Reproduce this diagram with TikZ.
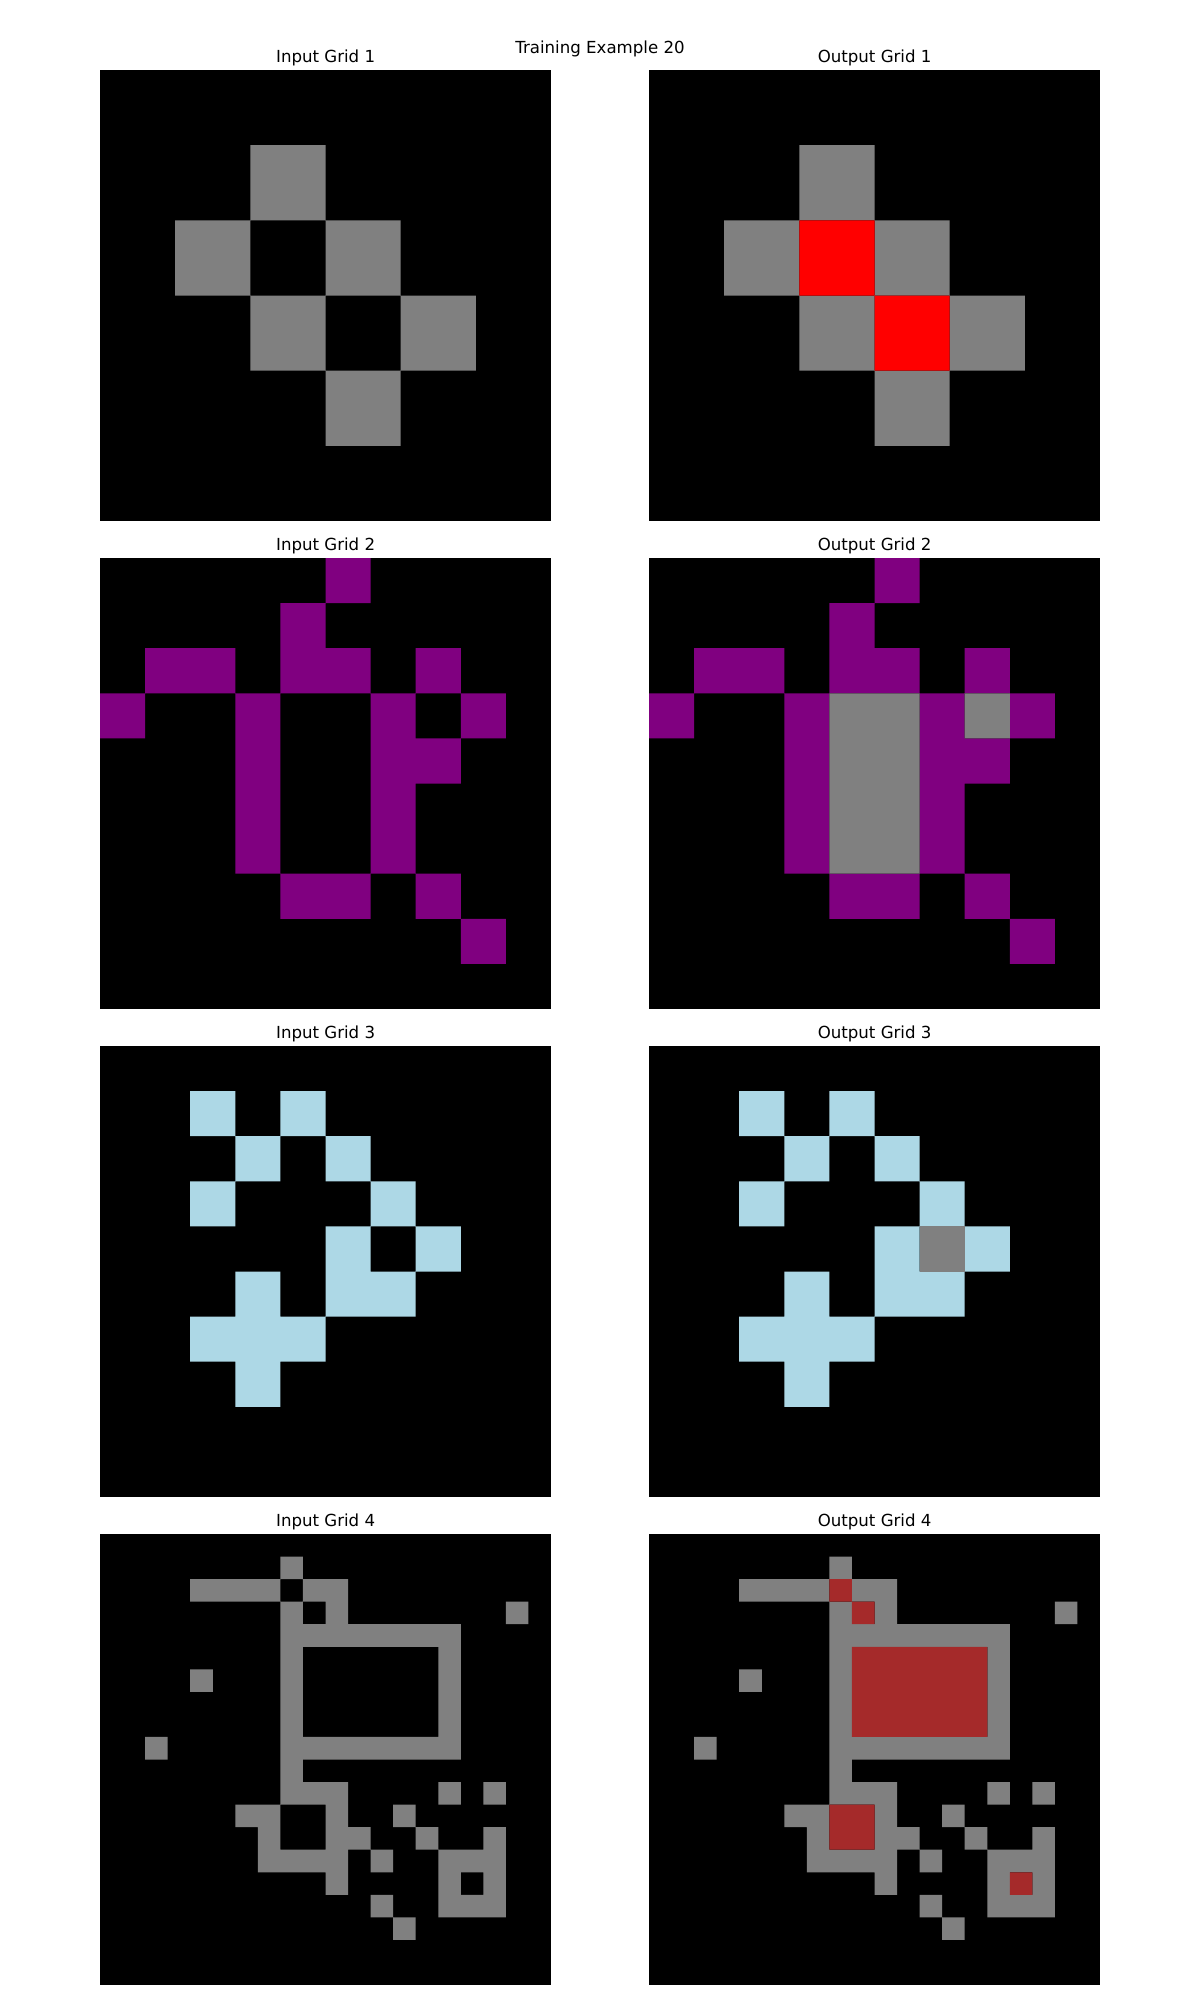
\documentclass[tikz,border=0pt]{standalone}
\usepackage{fontspec}
\setmainfont{DejaVu Sans}
\usepackage{tikz}
\usepackage{xcolor}

\definecolor{arcgray}{HTML}{808080}
\definecolor{arcred}{HTML}{FF0000}
\definecolor{arcpurple}{HTML}{800080}
\definecolor{arcblue}{HTML}{ADD8E6}
\definecolor{arcbrown}{HTML}{A52A2A}

% cell lists, x0/y0/x1/y1 in cells
\newcommand{\cellsone}{2/1/3/2, 1/2/2/3, 3/2/4/3, 2/3/3/4, 4/3/5/4, 3/4/4/5}
\newcommand{\cellstwo}{5/0/6/1, 4/1/5/3, 5/2/6/3, 1/2/3/3, 7/2/8/3, 0/3/1/4, 3/3/4/7, 6/3/7/7, 8/3/9/4, 7/4/8/5, 4/7/6/8, 7/7/8/8, 8/8/9/9}
\newcommand{\cellsthree}{2/1/3/2, 4/1/5/2, 3/2/4/3, 5/2/6/3, 2/3/3/4, 6/3/7/4, 5/4/6/6, 7/4/8/5, 6/5/7/6, 3/5/4/8, 2/6/3/7, 4/6/5/7}
\newcommand{\cellsfour}{8/1/9/2, 4/2/8/3, 9/2/10/3, 10/2/11/4, 8/3/9/12, 18/3/19/4, 9/4/16/5, 15/5/16/9, 9/9/16/10, 4/6/5/7, 2/9/3/10, 9/11/11/12, 10/12/11/16, 6/12/7/13, 7/12/8/15, 8/14/10/15, 11/13/12/14, 15/11/16/12, 17/11/18/12, 13/12/14/13, 14/13/15/14, 17/13/18/17, 12/14/13/15, 15/14/16/17, 16/14/17/15, 16/16/17/17, 12/16/13/17, 13/17/14/18}

\begin{document}
\begin{tikzpicture}[
    x=0.01in, y=-0.01in,
    board/.style={fill=black, inner sep=0pt, outer sep=0pt, minimum size=4.51in, anchor=north west},
    gridtitle/.style={anchor=base, inner sep=0pt, font=\fontsize{12}{14}\selectfont},
    cgray/.style={fill=arcgray},
    cred/.style={fill=arcred},
    cpurple/.style={fill=arcpurple},
    cblue/.style={fill=arcblue},
    cbrown/.style={fill=arcbrown}
]

\fill[white] (0,0) rectangle (1200,2000);
\useasboundingbox (0,0) rectangle (1200,2000);

% Main title
\node[gridtitle] (title) at (600,53.5) {Training Example 20};

% Boards
\node[board] (in1) at (100,70) {};
\node[board] (out1) at (649,70) {};
\node[board] (in2) at (100,558) {};
\node[board] (out2) at (649,558) {};
\node[board] (in3) at (100,1046) {};
\node[board] (out3) at (649,1046) {};
\node[board] (in4) at (100,1534) {};
\node[board] (out4) at (649,1534) {};

% Grid titles
\node[gridtitle] (in1title) at ([yshift=0.078in]in1.north) {Input Grid 1};
\node[gridtitle] (out1title) at ([yshift=0.078in]out1.north) {Output Grid 1};
\node[gridtitle] (in2title) at ([yshift=0.078in]in2.north) {Input Grid 2};
\node[gridtitle] (out2title) at ([yshift=0.078in]out2.north) {Output Grid 2};
\node[gridtitle] (in3title) at ([yshift=0.078in]in3.north) {Input Grid 3};
\node[gridtitle] (out3title) at ([yshift=0.078in]out3.north) {Output Grid 3};
\node[gridtitle] (in4title) at ([yshift=0.078in]in4.north) {Input Grid 4};
\node[gridtitle] (out4title) at ([yshift=0.078in]out4.north) {Output Grid 4};

% Pair 1
\begin{scope}[shift={(in1.north west)}, scale=451/6]
  \fill[cgray] foreach \a/\b/\c/\d in \cellsone {(\a,\b) rectangle (\c,\d)};
\end{scope}
\begin{scope}[shift={(out1.north west)}, scale=451/6]
  \fill[cgray] foreach \a/\b/\c/\d in \cellsone {(\a,\b) rectangle (\c,\d)};
  \fill[cred] (2,2) rectangle (3,3) (3,3) rectangle (4,4);
\end{scope}

% Pair 2
\begin{scope}[shift={(in2.north west)}, scale=451/10]
  \fill[cpurple] foreach \a/\b/\c/\d in \cellstwo {(\a,\b) rectangle (\c,\d)};
\end{scope}
\begin{scope}[shift={(out2.north west)}, scale=451/10]
  \fill[cpurple] foreach \a/\b/\c/\d in \cellstwo {(\a,\b) rectangle (\c,\d)};
  \fill[cgray] (4,3) rectangle (6,7) (7,3) rectangle (8,4);
\end{scope}

% Pair 3
\begin{scope}[shift={(in3.north west)}, scale=451/10]
  \fill[cblue] foreach \a/\b/\c/\d in \cellsthree {(\a,\b) rectangle (\c,\d)};
\end{scope}
\begin{scope}[shift={(out3.north west)}, scale=451/10]
  \fill[cblue] foreach \a/\b/\c/\d in \cellsthree {(\a,\b) rectangle (\c,\d)};
  \fill[cgray] (6,4) rectangle (7,5);
\end{scope}

% Pair 4
\begin{scope}[shift={(in4.north west)}, scale=451/20]
  \fill[cgray] foreach \a/\b/\c/\d in \cellsfour {(\a,\b) rectangle (\c,\d)};
\end{scope}
\begin{scope}[shift={(out4.north west)}, scale=451/20]
  \fill[cgray] foreach \a/\b/\c/\d in \cellsfour {(\a,\b) rectangle (\c,\d)};
  \fill[cbrown] (8,2) rectangle (9,3) (9,3) rectangle (10,4) (9,5) rectangle (15,9)
    (8,12) rectangle (10,14) (16,15) rectangle (17,16);
\end{scope}

\end{tikzpicture}
\end{document}
